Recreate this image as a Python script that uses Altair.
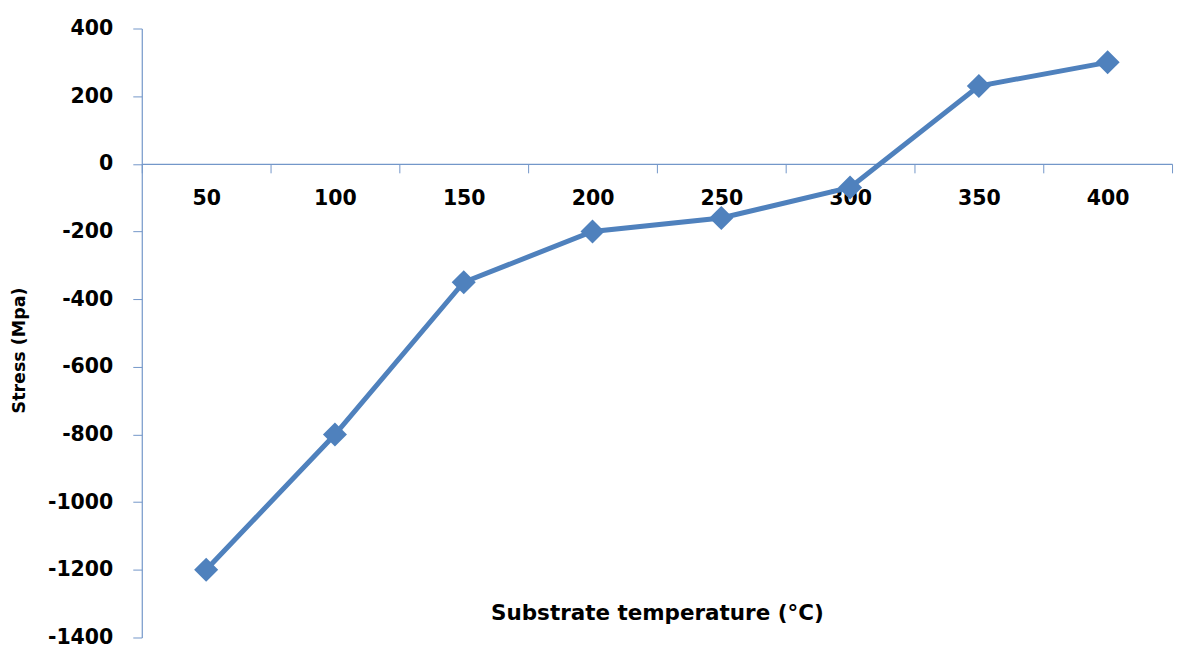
import altair as alt
import pandas as pd

temps = ["50", "100", "150", "200", "250", "300", "350", "400"]
stress = [-1200, -800, -350, -200, -160, -70, 230, 300]
y_ticks = list(range(-1400, 401, 200))

df = pd.DataFrame({"temp": temps, "stress": stress})

W, H = 1032, 610
zero_pos = H * 400 / 1800

AXIS_COLOR = "#7397C9"
FONT = "DejaVu Sans"

x_enc = alt.X(
    "temp:N",
    sort=temps,
    scale=alt.Scale(type="band", paddingInner=0, paddingOuter=0),
    axis=alt.Axis(
        title="Substrate temperature (°C)",
        offset=-(H - zero_pos),
        tickBand="extent",
        labelAngle=0,
        labelFont=FONT,
        labelFontWeight="bold",
        labelFontSize=20.5,
        labelColor="black",
        labelPadding=16,
        tickSize=9,
        tickColor=AXIS_COLOR,
        domainColor=AXIS_COLOR,
        domainWidth=1.2,
        titleFont=FONT,
        titleFontWeight="bold",
        titleFontSize=21.5,
        titleColor="black",
        titleX=516,
        titleY=450,
        titleBaseline="middle",
        grid=False,
    ),
)

y_enc = alt.Y(
    "stress:Q",
    scale=alt.Scale(domain=[-1400, 400], nice=False, zero=False),
    axis=alt.Axis(
        title="Stress (Mpa)",
        values=y_ticks,
        labelExpr="'' + datum.value",
        labelFont=FONT,
        labelFontWeight="bold",
        labelFontSize=20.5,
        labelColor="black",
        labelPadding=20,
        tickSize=9,
        tickColor=AXIS_COLOR,
        domainColor=AXIS_COLOR,
        domainWidth=1.2,
        titleFont=FONT,
        titleFontWeight="bold",
        titleFontSize=17.5,
        titleColor="black",
        titleAngle=270,
        titleX=-122,
        titleY=322,
        titleBaseline="middle",
        grid=False,
    ),
)

line = alt.Chart(df).mark_line(color="#4F81BD", strokeWidth=5).encode(x=x_enc, y=y_enc)
pts = alt.Chart(df).mark_point(
    shape="diamond", filled=True, size=580, color="#4F81BD", opacity=1
).encode(x=x_enc, y=y_enc)

chart = (
    (line + pts)
    .properties(
        width=W,
        height=H,
        autosize=alt.AutoSizeParams(type="none"),
        padding={"left": 134, "top": 20, "right": 20, "bottom": 20},
        background="white",
    )
    .configure_view(stroke=None)
)

chart.save("out.html", embed_options={"renderer": "svg", "actions": False})
